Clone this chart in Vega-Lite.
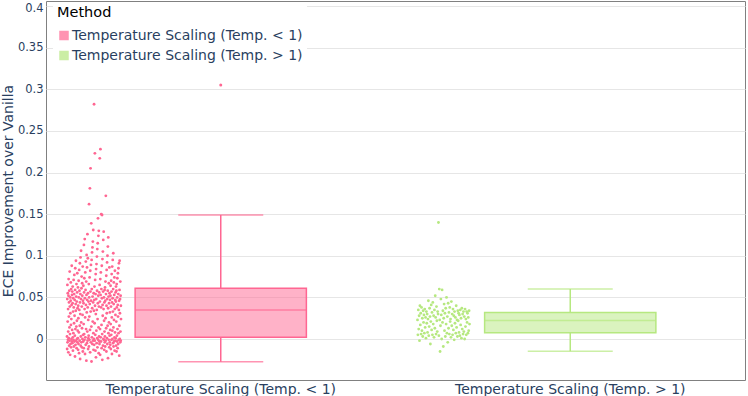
{
  "$schema": "https://vega.github.io/schema/vega-lite/v6.json",
  "width": 699,
  "height": 379,
  "autosize": {"type": "none"},
  "padding": {"left": 46, "top": 1, "right": 3, "bottom": 16},
  "background": "white",
  "config": {
    "font": "DejaVu Sans",
    "view": {"stroke": "#808080", "strokeWidth": 1},
    "legend": {"orient": "none", "legendX": 7, "legendY": 1, "fillColor": "white", "padding": 4, "titleColor": "#000000", "titleFontSize": 14.5, "titleFontWeight": "normal", "titlePadding": 8, "labelFontSize": 14, "labelColor": "#2a3f5f", "symbolType": "square", "symbolSize": 64, "symbolStrokeWidth": 1.5, "symbolOffset": 0, "rowPadding": 6, "labelOffset": 1, "labelLimit": 400}
  },
  "datasets": {
    "box": [
      {"method": "Temperature Scaling (Temp. < 1)", "lo": -0.0273, "q1": 0.002, "med": 0.0348, "q3": 0.0609, "hi": 0.149, "out": 0.305},
      {"method": "Temperature Scaling (Temp. > 1)", "lo": -0.0148, "q1": 0.0076, "med": 0.0224, "q3": 0.032, "hi": 0.06, "out": null}
    ],
    "lt": [
      {"v":0.003},{"v":-0.012},{"v":0.048},{"v":0.065},{"v":-0.004},{"v":0.021},{"v":0.055},{"v":-0.001},{"v":0.036},{"v":0.009},{"v":-0.016},{"v":0.052},{"v":0.072},{"v":0.001},{"v":0.027},{"v":0.044},{"v":-0.008},{"v":0.058},{"v":0.014},{"v":-0.002},{"v":0.081},{"v":0.039},{"v":0.006},{"v":-0.019},{"v":0.050},{"v":0.031},{"v":-0.006},{"v":0.046},{"v":0.068},{"v":0.017},{"v":-0.010},{"v":0.060},{"v":0.024},{"v":0.000},{"v":0.041},{"v":0.088},{"v":-0.003},{"v":0.053},{"v":0.011},{"v":0.057},
      {"v":-0.005},{"v":0.043},{"v":0.063},{"v":0.002},{"v":-0.014},{"v":0.033},{"v":0.049},{"v":0.007},{"v":-0.001},{"v":0.071},{"v":0.038},{"v":-0.009},{"v":0.019},{"v":0.054},{"v":0.077},{"v":-0.003},{"v":0.028},{"v":0.047},{"v":0.004},{"v":-0.021},{"v":0.059},{"v":0.085},{"v":0.012},{"v":-0.007},{"v":0.042},{"v":0.034},{"v":0.094},{"v":-0.002},{"v":0.051},{"v":0.015},{"v":0.066},{"v":-0.011},{"v":0.045},{"v":0.022},{"v":0.000},{"v":0.056},{"v":0.079},{"v":-0.004},{"v":0.037},{"v":0.010},
      {"v":0.001},{"v":0.062},{"v":-0.013},{"v":0.040},{"v":0.025},{"v":-0.006},{"v":0.070},{"v":0.050},{"v":0.008},{"v":-0.017},{"v":0.083},{"v":0.035},{"v":0.058},{"v":-0.002},{"v":0.016},{"v":0.091},{"v":0.044},{"v":-0.024},{"v":0.030},{"v":0.054},{"v":0.098},{"v":-0.008},{"v":0.003},{"v":0.048},{"v":0.106},{"v":0.020},{"v":-0.004},{"v":0.061},{"v":0.075},{"v":0.039},{"v":-0.010},{"v":0.013},{"v":0.067},{"v":0.052},{"v":0.000},{"v":0.029},{"v":0.087},{"v":-0.015},{"v":0.046},{"v":0.005},
      {"v":-0.003},{"v":0.064},{"v":0.043},{"v":0.018},{"v":-0.011},{"v":0.113},{"v":0.056},{"v":0.006},{"v":0.073},{"v":-0.001},{"v":0.036},{"v":0.120},{"v":0.049},{"v":-0.018},{"v":0.026},{"v":0.080},{"v":0.002},{"v":0.059},{"v":-0.007},{"v":0.093},{"v":0.041},{"v":0.012},{"v":0.069},{"v":-0.026},{"v":0.053},{"v":0.101},{"v":0.032},{"v":-0.005},{"v":0.086},{"v":0.047},{"v":0.009},{"v":0.126},{"v":-0.002},{"v":0.038},{"v":0.097},{"v":0.055},{"v":-0.012},{"v":0.023},{"v":0.001},{"v":0.045},
      {"v":0.004},{"v":0.066},{"v":-0.009},{"v":0.162},{"v":0.050},{"v":0.027},{"v":-0.001},{"v":0.074},{"v":0.042},{"v":0.181},{"v":0.011},{"v":-0.016},{"v":0.082},{"v":0.057},{"v":0.205},{"v":0.033},{"v":-0.004},{"v":0.089},{"v":0.046},{"v":0.139},{"v":0.015},{"v":-0.027},{"v":0.095},{"v":0.060},{"v":0.002},{"v":0.104},{"v":0.037},{"v":-0.006},{"v":0.110},{"v":0.051},{"v":0.021},{"v":0.117},{"v":-0.002},{"v":0.044},{"v":0.131},{"v":0.007},{"v":-0.013},{"v":0.055},{"v":0.000},{"v":0.034},
      {"v":0.282},{"v":-0.007},{"v":0.047},{"v":0.063},{"v":0.019},{"v":-0.002},{"v":0.223},{"v":0.040},{"v":0.071},{"v":0.005},{"v":-0.014},{"v":0.054},{"v":0.078},{"v":0.030},{"v":-0.022},{"v":0.084},{"v":0.048},{"v":0.010},{"v":0.090},{"v":-0.005},{"v":0.035},{"v":0.099},{"v":0.058},{"v":0.001},{"v":0.108},{"v":-0.010},{"v":0.024},{"v":0.115},{"v":0.043},{"v":0.145},{"v":-0.001},{"v":0.052},{"v":0.124},{"v":0.014},{"v":-0.017},{"v":0.130},{"v":0.039},{"v":0.003},{"v":0.056},{"v":-0.003},
      {"v":-0.006},{"v":0.065},{"v":0.217},{"v":0.045},{"v":0.012},{"v":-0.019},{"v":0.072},{"v":0.228},{"v":0.053},{"v":0.002},{"v":0.080},{"v":-0.003},{"v":0.038},{"v":0.150},{"v":0.060},{"v":0.017},{"v":-0.011},{"v":0.088},{"v":0.049},{"v":0.149},{"v":0.006},{"v":-0.025},{"v":0.096},{"v":0.041},{"v":0.028},{"v":0.105},{"v":-0.008},{"v":0.057},{"v":0.119},{"v":0.000},{"v":0.036},{"v":0.129},{"v":-0.001},{"v":0.050},{"v":0.022},{"v":-0.013},{"v":0.044},{"v":0.009},{"v":0.059},{"v":-0.004},
      {"v":0.003},{"v":0.062},{"v":-0.009},{"v":0.046},{"v":0.069},{"v":0.025},{"v":-0.002},{"v":0.172},{"v":0.054},{"v":0.013},{"v":0.076},{"v":-0.015},{"v":0.040},{"v":0.083},{"v":0.031},{"v":0.001},{"v":0.092},{"v":0.048},{"v":-0.006},{"v":0.100},{"v":0.016},{"v":0.058},{"v":0.111},{"v":-0.023},{"v":0.037},{"v":0.122},{"v":0.007},{"v":0.051},{"v":-0.001},{"v":0.067},{"v":0.020},{"v":0.043},{"v":-0.010},{"v":0.086},{"v":0.055},{"v":0.004},{"v":-0.004},{"v":0.032},{"v":0.047},{"v":0.011},
      {"v":-0.007},{"v":0.052},{"v":0.064},{"v":0.018},{"v":-0.012},{"v":0.039},{"v":0.070},{"v":0.005},{"v":-0.001},{"v":0.057},{"v":0.078},{"v":0.026},{"v":-0.018},{"v":0.044},{"v":0.087},{"v":0.010},{"v":0.000},{"v":0.049},{"v":0.095},{"v":0.033},{"v":-0.005},{"v":0.060},{"v":0.103},{"v":0.014},{"v":-0.009},{"v":0.042},{"v":0.068},{"v":0.023},{"v":-0.003},{"v":0.053},{"v":0.074},{"v":0.002},{"v":-0.014},{"v":0.036},{"v":0.082},{"v":0.008},{"v":-0.002},{"v":0.047},{"v":0.029},{"v":0.056},
      {"v":0.001},{"v":0.045},{"v":0.063},{"v":-0.008},{"v":0.021},{"v":0.058},{"v":-0.015},{"v":0.066},{"v":0.038},{"v":0.004},{"v":-0.003},{"v":0.050},{"v":0.073},{"v":0.012},{"v":-0.011},{"v":0.041},{"v":0.079},{"v":0.027},{"v":-0.006},{"v":0.054},{"v":0.085},{"v":0.007},{"v":-0.001},{"v":0.035},{"v":0.091},{"v":0.046},{"v":-0.020},{"v":0.016},{"v":0.059},{"v":0.094},{"v":0.000},{"v":0.031},{"v":0.048},{"v":-0.004},{"v":0.069},{"v":0.009},{"v":0.052},{"v":-0.002},{"v":0.040},{"v":0.024}
    ],
    "gt": [
      {"v":0.023},{"v":0.005},{"v":0.035},{"v":0.012},{"v":0.028},{"v":-0.002},{"v":0.040},{"v":0.017},{"v":0.031},{"v":0.006},{"v":0.038},{"v":0.010},{"v":0.025},{"v":0.003},{"v":0.034},{"v":0.020},{"v":0.029},{"v":0.007},{"v":0.036},{"v":0.014},{"v":0.026},{"v":0.001},{"v":0.033},{"v":0.019},{"v":0.030},{"v":0.008},
      {"v":0.024},{"v":0.046},{"v":0.004},{"v":0.015},{"v":0.037},{"v":0.027},{"v":-0.006},{"v":0.021},{"v":0.041},{"v":0.011},{"v":0.032},{"v":0.005},{"v":0.044},{"v":0.018},{"v":0.028},{"v":0.002},{"v":0.035},{"v":0.013},{"v":0.052},{"v":0.026},{"v":0.006},{"v":0.039},{"v":0.022},{"v":0.009},{"v":0.033},{"v":0.030},
      {"v":0.140},{"v":0.004},{"v":0.060},{"v":0.023},{"v":-0.015},{"v":0.016},{"v":0.048},{"v":0.029},{"v":0.000},{"v":0.059},{"v":0.020},{"v":0.034},{"v":-0.009},{"v":0.025},{"v":0.042},{"v":0.010},{"v":0.031},{"v":0.003},{"v":0.037},{"v":0.018},{"v":0.050},{"v":0.007},{"v":0.027},{"v":-0.004},{"v":0.043},{"v":0.013},
      {"v":0.032},{"v":0.006},{"v":0.038},{"v":0.021},{"v":0.024},{"v":0.002},{"v":0.045},{"v":0.016},{"v":0.030},{"v":0.005},{"v":0.036},{"v":0.011},{"v":0.028},{"v":-0.001},{"v":0.033},{"v":0.019},{"v":0.026},{"v":0.007},{"v":0.040},{"v":0.014},{"v":0.023},{"v":0.003},{"v":0.034},{"v":0.022},{"v":0.031},{"v":0.008},
      {"v":0.029},{"v":0.004},{"v":0.035},{"v":0.017},{"v":0.025},{"v":0.001},{"v":0.037},{"v":0.012},{"v":0.030},{"v":0.006},{"v":0.033},{"v":0.009},{"v":0.027},{"v":0.000},{"v":0.036},{"v":0.015},{"v":0.024},{"v":0.005},{"v":0.033},{"v":0.020},{"v":0.031},{"v":0.007},{"v":0.026},{"v":0.010},{"v":0.034},{"v":0.018}
    ]
  },
  "encoding": {
    "x": {
      "type": "nominal",
      "scale": {"domain": ["Temperature Scaling (Temp. < 1)", "Temperature Scaling (Temp. > 1)"], "paddingInner": 0, "paddingOuter": 0},
      "axis": {"title": null, "ticks": false, "domain": false, "labelFontSize": 14, "labelColor": "#2a3f5f", "labelPadding": 2, "labelAngle": 0, "labelLimit": 0}
    },
    "y": {
      "type": "quantitative",
      "scale": {"domain": [-0.0492, 0.406], "nice": false, "zero": false},
      "axis": {"title": "ECE Improvement over Vanilla", "values": [0, 0.05, 0.1, 0.15, 0.2, 0.25, 0.3, 0.35, 0.4], "format": ".2~f", "grid": true, "gridColor": "#e6e6e6", "gridWidth": 1, "ticks": false, "domain": false, "labelFontSize": 11.5, "labelColor": "#2a3f5f", "labelPadding": 3, "labelOffset": {"condition": {"test": "datum.value >= 0.39", "value": 3}, "value": 0}, "titleFontSize": 14, "titleFontWeight": "normal", "titleColor": "#2a3f5f", "titlePadding": 2}
    }
  },
  "layer": [
    {
      "mark": {"type": "rule", "color": "#444e60", "strokeWidth": 1.5},
      "encoding": {"x": null, "y": {"datum": 0, "type": "quantitative"}}
    },
    {
      "data": {"name": "box"},
      "mark": {"type": "rule", "strokeWidth": 1.5},
      "encoding": {"x": {"field": "method"}, "y": {"field": "lo"}, "y2": {"field": "q1"}, "color": {"field": "method", "type": "nominal"}}
    },
    {
      "data": {"name": "box"},
      "mark": {"type": "rule", "strokeWidth": 1.5},
      "encoding": {"x": {"field": "method"}, "y": {"field": "q3"}, "y2": {"field": "hi"}, "color": {"field": "method", "type": "nominal"}}
    },
    {
      "data": {"name": "box"},
      "mark": {"type": "tick", "size": 85, "thickness": 1.5},
      "encoding": {"x": {"field": "method"}, "y": {"field": "lo"}, "color": {"field": "method", "type": "nominal"}}
    },
    {
      "data": {"name": "box"},
      "mark": {"type": "tick", "size": 85, "thickness": 1.5},
      "encoding": {"x": {"field": "method"}, "y": {"field": "hi"}, "color": {"field": "method", "type": "nominal"}}
    },
    {
      "data": {"name": "box"},
      "mark": {"type": "bar", "fillOpacity": 0.5, "strokeWidth": 1.5, "width": {"band": 0.49}},
      "encoding": {
        "x": {"field": "method"},
        "y": {"field": "q1"},
        "y2": {"field": "q3"},
        "color": {"field": "method", "type": "nominal", "title": "Method", "scale": {"domain": ["Temperature Scaling (Temp. < 1)", "Temperature Scaling (Temp. > 1)"], "range": ["#FF6692", "#B6E880"]}},
        "stroke": {"field": "method", "type": "nominal", "title": "Method", "scale": {"domain": ["Temperature Scaling (Temp. < 1)", "Temperature Scaling (Temp. > 1)"], "range": ["#FF6692", "#B6E880"]}}
      }
    },
    {
      "data": {"name": "box"},
      "mark": {"type": "tick", "size": 171, "thickness": 1.5},
      "encoding": {"x": {"field": "method"}, "y": {"field": "med"}, "color": {"field": "method", "type": "nominal"}}
    },
    {
      "data": {"name": "box"},
      "transform": [{"filter": "datum.out != null"}],
      "mark": {"type": "circle", "size": 9, "opacity": 1},
      "encoding": {"x": {"field": "method"}, "y": {"field": "out"}, "color": {"field": "method", "type": "nominal"}}
    },
    {
      "data": {"name": "lt"},
      "transform": [{"window": [{"op": "row_number", "as": "i"}]}],
      "mark": {"type": "circle", "size": 8, "opacity": 1, "color": "#FF6692"},
      "encoding": {
        "x": {"datum": "Temperature Scaling (Temp. < 1)", "type": "nominal"},
        "xOffset": {"field": "i", "type": "quantitative", "scale": {"domain": [1, 400], "range": [21, 75]}},
        "y": {"field": "v"}
      }
    },
    {
      "data": {"name": "gt"},
      "transform": [{"window": [{"op": "row_number", "as": "i"}]}],
      "mark": {"type": "circle", "size": 8, "opacity": 1, "color": "#B6E880"},
      "encoding": {
        "x": {"datum": "Temperature Scaling (Temp. > 1)", "type": "nominal"},
        "xOffset": {"field": "i", "type": "quantitative", "scale": {"domain": [1, 130], "range": [22, 74]}},
        "y": {"field": "v"}
      }
    }
  ],
  "resolve": {"scale": {"xOffset": "independent"}}
}
